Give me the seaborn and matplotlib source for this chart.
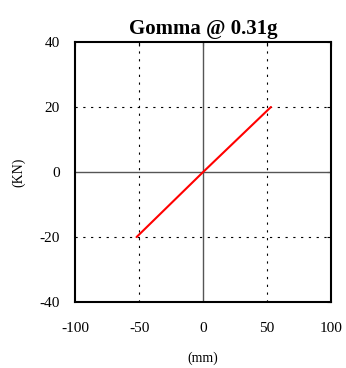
"""Hysteresis loop plot: rubber isolator at 0.31g"""
import matplotlib
matplotlib.use("Agg")
import matplotlib.pyplot as plt
import pandas as pd
import seaborn as sns

# displacement (mm) and force (KN)
DISPLACEMENT = [-52, 0, 53]
FORCE = [-20, 0, 20]
X_TICKS = [-100, -50, 0, 50, 100]
Y_TICKS = [-40, -20, 0, 20, 40]


def plot_loop():
    sns.set_style("white")
    plt.rcParams['font.family'] = ['Liberation Serif', 'DejaVu Serif']
    plt.rcParams['axes.unicode_minus'] = False
    plt.rcParams['text.color'] = "black"

    df = pd.DataFrame({"mm": DISPLACEMENT, "KN": FORCE})

    fig = plt.figure(figsize=(3.46, 3.68), dpi=100)
    ax = fig.add_axes([0.217, 0.179, 0.74, 0.707])

    # dotted grid at +-50 / +-20, solid zero axes
    for x in (-50, 50):
        ax.axvline(x, color="black", linestyle=(0, (2, 5)), linewidth=0.8)
    for y in (-20, 20):
        ax.axhline(y, color="black", linestyle=(0, (2, 5)), linewidth=0.8)
    ax.axvline(0, color="#555555", linewidth=1.0)
    ax.axhline(0, color="#555555", linewidth=1.0)

    sns.lineplot(data=df, x="mm", y="KN", ax=ax, color="red", linewidth=1.5)

    ax.set_xlim(-100, 100)
    ax.set_ylim(-40, 40)
    ax.set_xticks(X_TICKS)
    ax.set_yticks(Y_TICKS)
    ax.tick_params(direction="in", length=3, width=0.8, labelsize=11,
                   top=True, right=True, colors="black")
    ax.tick_params(axis="x", pad=14)
    ax.tick_params(axis="y", pad=11)
    for s in ax.spines.values():
        s.set_visible(True)
        s.set_color("black")
        s.set_linewidth(1.5)

    ax.set_xlabel("(mm)", fontsize=10, labelpad=12, color="black")
    ax.set_ylabel("(KN)", fontsize=10, labelpad=10, color="black")
    ax.set_title("Gomma @ 0.31g", fontsize=15, fontweight="bold", pad=6,
                 color="black")

    fig.savefig("out.png", dpi=100)


if __name__ == "__main__":
    plot_loop()
